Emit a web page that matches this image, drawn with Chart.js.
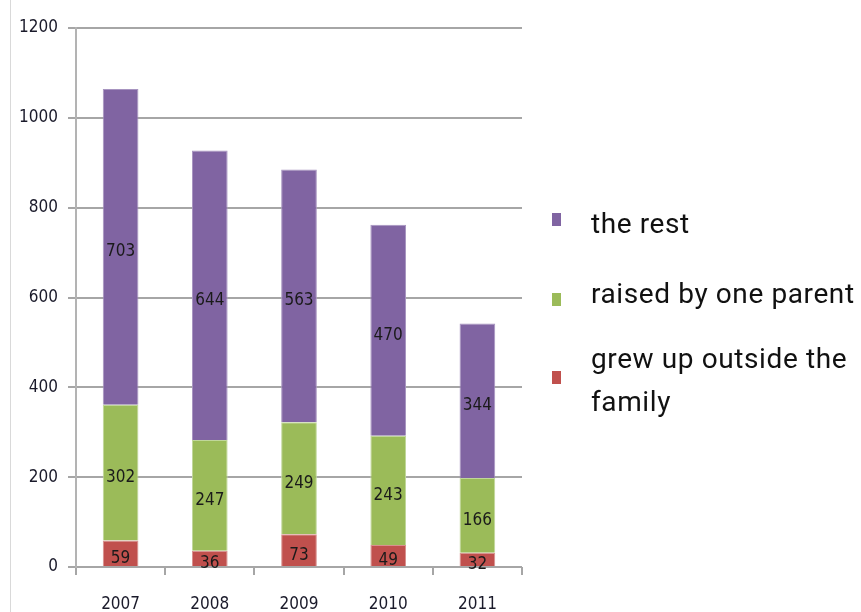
<!DOCTYPE html>
<html>
<head>
<meta charset="utf-8">
<script src="https://cdn.jsdelivr.net/npm/chart.js@4"></script>
<style>
html,body{margin:0;padding:0;background:#fff;}
#wrap{position:relative;width:861px;height:612px;}
canvas{display:block;}
</style>
</head>
<body>
<div id="wrap"><canvas id="c" width="861" height="612"></canvas></div>
<script>
const categories = ["2007", "2008", "2009", "2010", "2011"];
const outsideFamily = [59, 36, 73, 49, 32];
const oneParent = [302, 247, 249, 243, 166];
const theRest = [703, 644, 563, 470, 344];
const seriesNames = ["grew up outside the family", "raised by one parent", "the rest"];
const legendLines = [["the rest"], ["raised by one parent"], ["grew up outside the", "family"]];
const yTicks = [0, 200, 400, 600, 800, 1000, 1200];

const COLORS = {rest: "#8064A2", parent: "#9BBB59", outside: "#C0504D"};
const FAM = "'DejaVu Sans Condensed', 'Liberation Sans', sans-serif";
const tickFont = {family: FAM, size: 17};

const valueLabels = {
  id: "valueLabels",
  afterDatasetsDraw(chart) {
    const ctx = chart.ctx;
    ctx.save();
    ctx.font = "17px " + FAM;
    ctx.fillStyle = "#1a1a1a";
    ctx.textAlign = "center";
    ctx.textBaseline = "middle";
    chart.data.datasets.forEach((ds, i) => {
      const meta = chart.getDatasetMeta(i);
      meta.data.forEach((bar, j) => {
        const p = bar.getProps(["x", "y", "base"], true);
        ctx.fillText(String(ds.data[j]), p.x, (p.y + p.base) / 2 + 5);
      });
    });
    ctx.restore();
  }
};

const sideDecor = {
  id: "sideDecor",
  beforeDraw(chart) {
    const ctx = chart.ctx;
    ctx.save();
    ctx.strokeStyle = "#d9d9d9";
    ctx.lineWidth = 1;
    ctx.beginPath();
    ctx.moveTo(10.5, 0);
    ctx.lineTo(10.5, 612);
    ctx.stroke();
    ctx.restore();
  },
  afterDraw(chart) {
    const ctx = chart.ctx;
    ctx.save();
    const cols = [COLORS.rest, COLORS.parent, COLORS.outside];
    const markerY = [220, 300, 378];
    const ty = [[226], [296], [361, 404]];
    ctx.font = "28px Roboto, sans-serif";
    try { ctx.letterSpacing = "0.6px"; } catch (e) {}
    ctx.textBaseline = "middle";
    ctx.textAlign = "left";
    legendLines.forEach((lines, i) => {
      ctx.fillStyle = cols[i];
      ctx.fillRect(552, markerY[i] - 7, 9, 13);
      ctx.fillStyle = "#111";
      lines.forEach((t, k) => ctx.fillText(t, 591, ty[i][k]));
    });
    ctx.restore();
  }
};

new Chart(document.getElementById("c"), {
  type: "bar",
  data: {
    labels: categories,
    datasets: [
      {label: seriesNames[0], data: outsideFamily, backgroundColor: COLORS.outside, borderColor: "#d8908e", borderWidth: {left:1,right:1,top:1,bottom:0}},
      {label: seriesNames[1], data: oneParent, backgroundColor: COLORS.parent, borderColor: "#c0d79a", borderWidth: {left:1,right:1,top:1,bottom:0}},
      {label: seriesNames[2], data: theRest, backgroundColor: COLORS.rest, borderColor: "#a794c0", borderWidth: {left:1,right:1,top:1,bottom:0}}
    ]
  },
  options: {
    responsive: false,
    animation: false,
    layout: {padding: {left: 0, right: 339, top: 28, bottom: 0}},
    plugins: {legend: {display: false}, tooltip: {enabled: false}},
    datasets: {bar: {barPercentage: 0.4, categoryPercentage: 1.0}},
    scales: {
      x: {
        stacked: true,
        grid: {display: true, drawOnChartArea: false, drawTicks: true, tickLength: 8, color: "#a6a6a6", lineWidth: 2, offset: true},
        border: {display: false},
        ticks: {color: "#1a1a2a", font: tickFont, padding: 19, maxRotation: 0},
        afterFit(s) { s.height = 45; }
      },
      y: {
        stacked: true,
        min: 0, max: 1200,
        afterBuildTicks(s) { s.ticks = yTicks.map(v => ({value: v})); },
        grid: {color: "#a6a6a6", lineWidth: 2, tickLength: 8, drawTicks: true},
        border: {display: true, color: "#b3b3b3", width: 2},
        ticks: {color: "#1a1a2a", font: tickFont, padding: 10, callback: (v) => String(v)},
        afterFit(s) { s.width = 76; }
      }
    }
  },
  plugins: [valueLabels, sideDecor]
});
</script>
</body>
</html>
